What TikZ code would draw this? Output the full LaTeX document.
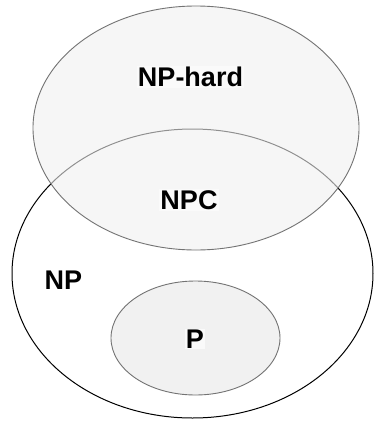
\documentclass[tikz,border=0pt]{standalone}
\usepackage{fontspec}
\setmainfont{Liberation Sans}
\begin{document}
\begin{tikzpicture}[x=1pt,y=-1pt,
  setfill/.style={fill=gray!11, draw=black!55, line width=0.9pt},
  lbl/.style={font=\fontsize{27}{32}\selectfont\bfseries, inner sep=1pt}]
\useasboundingbox (0,0) rectangle (373,421);
\path[fill=white] (0,0) rectangle (373,421);
% NP
\draw[black, line width=1pt] (192.5,273.5) ellipse [x radius=180.5, y radius=144.5];
% NP-hard
\path[setfill, fill opacity=0.6, draw opacity=1] (196,128) ellipse [x radius=163, y radius=122];
% P
\path[setfill] (195.5,338) ellipse [x radius=84.5, y radius=57];
\node[lbl, fill=gray!4] (nph) at (190.5,77) {NP-hard};
\node[lbl, fill=gray!4] (npc) at (189,200) {NPC};
\node[lbl] (np) at (63.5,280) {NP};
\node[lbl, fill=gray!4] (p) at (195,339) {P};
\end{tikzpicture}
\end{document}
